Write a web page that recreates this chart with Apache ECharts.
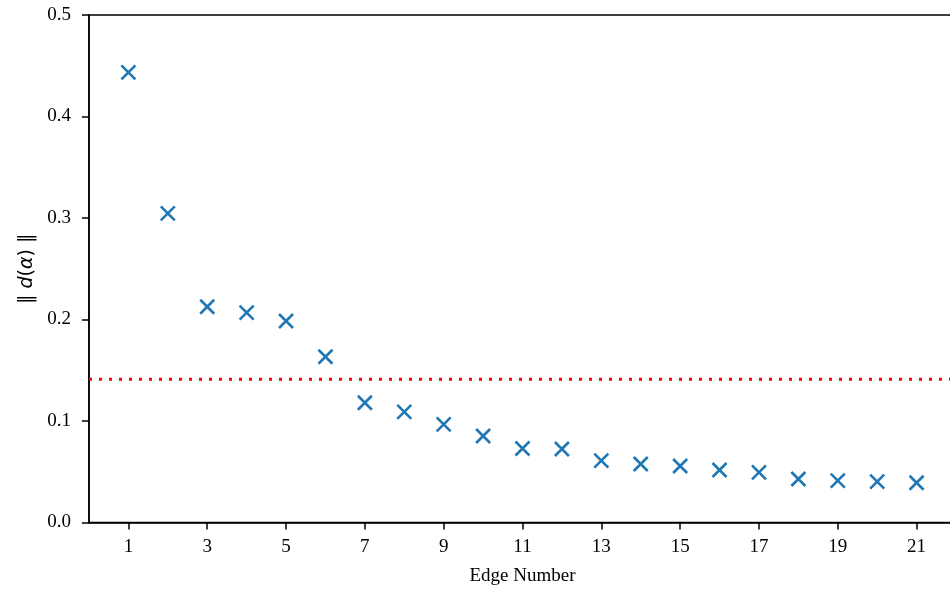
<!DOCTYPE html>
<html>
<head>
<meta charset="utf-8">
<script src="https://cdn.jsdelivr.net/npm/echarts@6/dist/echarts.min.js"></script>
<style>html,body{margin:0;padding:0;background:#fff;}#c{width:950px;height:593px;}</style>
</head>
<body>
<div id="c"></div>
<script>
const edgeNumbers = [1,2,3,4,5,6,7,8,9,10,11,12,13,14,15,16,17,18,19,20,21];
const normValues = [0.4435,0.3046,0.2126,0.2067,0.1985,0.1633,0.1180,0.1090,0.0967,0.0852,0.0729,0.0724,0.0609,0.0576,0.0557,0.0517,0.0494,0.0429,0.0412,0.0402,0.0392];
const thresholdValue = 0.1411;
const xTickValues = [1,3,5,7,9,11,13,15,17,19,21];
const xRange = [0, 22];

const chart = echarts.init(document.getElementById('c'), null, {renderer:'canvas'});
const serif = '"Liberation Serif", "Times New Roman", serif';
chart.setOption({
  animation: false,
  backgroundColor: '#fff',
  grid: {left: 89, top: 15, width: 867, height: 507.5, outerBoundsMode: 'none', containLabel: false,
         show: true, borderColor: '#000', borderWidth: 1.5, backgroundColor: 'transparent'},
  xAxis: {
    type: 'value', min: xRange[0], max: xRange[1],
    name: 'Edge Number', nameLocation: 'middle', nameGap: 44,
    nameTextStyle: {fontFamily: serif, fontSize: 19, color: '#000'},
    axisLine: {show: true, lineStyle: {color: '#000', width: 1.5}},
    axisTick: {show: true, length: 7, lineStyle: {color: '#000', width: 1.5}, customValues: xTickValues},
    axisLabel: {fontFamily: serif, fontSize: 19, color: '#000', margin: 15, customValues: xTickValues},
    splitLine: {show: false}
  },
  yAxis: {
    type: 'value', min: 0, max: 0.5, interval: 0.1,
    name: '{n|‖ }{i|d}{n|(}{i|α}{n|) ‖}', nameLocation: 'middle', nameGap: 50, nameRotate: 90,
    nameTextStyle: {rich: {
      n: {fontFamily: '"DejaVu Sans"', fontSize: 19, color: '#000'},
      i: {fontFamily: '"DejaVu Sans"', fontSize: 19, fontStyle: 'italic', color: '#000'}
    }},
    axisLine: {show: true, lineStyle: {color: '#000', width: 1.5}},
    axisTick: {show: true, length: 7, lineStyle: {color: '#000', width: 1.5}},
    axisLabel: {fontFamily: serif, fontSize: 19, color: '#000', margin: 18, formatter: v => v.toFixed(1)},
    splitLine: {show: false}
  },
  series: [{
    type: 'scatter',
    data: edgeNumbers.map((x, i) => [x, normValues[i]]),
    symbol: 'path://M0,0L10,10M10,0L0,10',
    symbolSize: 14,
    itemStyle: {color: 'transparent', borderColor: '#1f77b4', borderWidth: 2.6, opacity: 1},
    z: 3
  }, {
    type: 'line',
    data: [[xRange[0], thresholdValue], [xRange[1], thresholdValue]],
    symbol: 'none',
    lineStyle: {color: '#ff0000', width: 3, type: [3, 7], cap: 'butt'},
    silent: true,
    z: 2
  }]
});
</script>
</body>
</html>
